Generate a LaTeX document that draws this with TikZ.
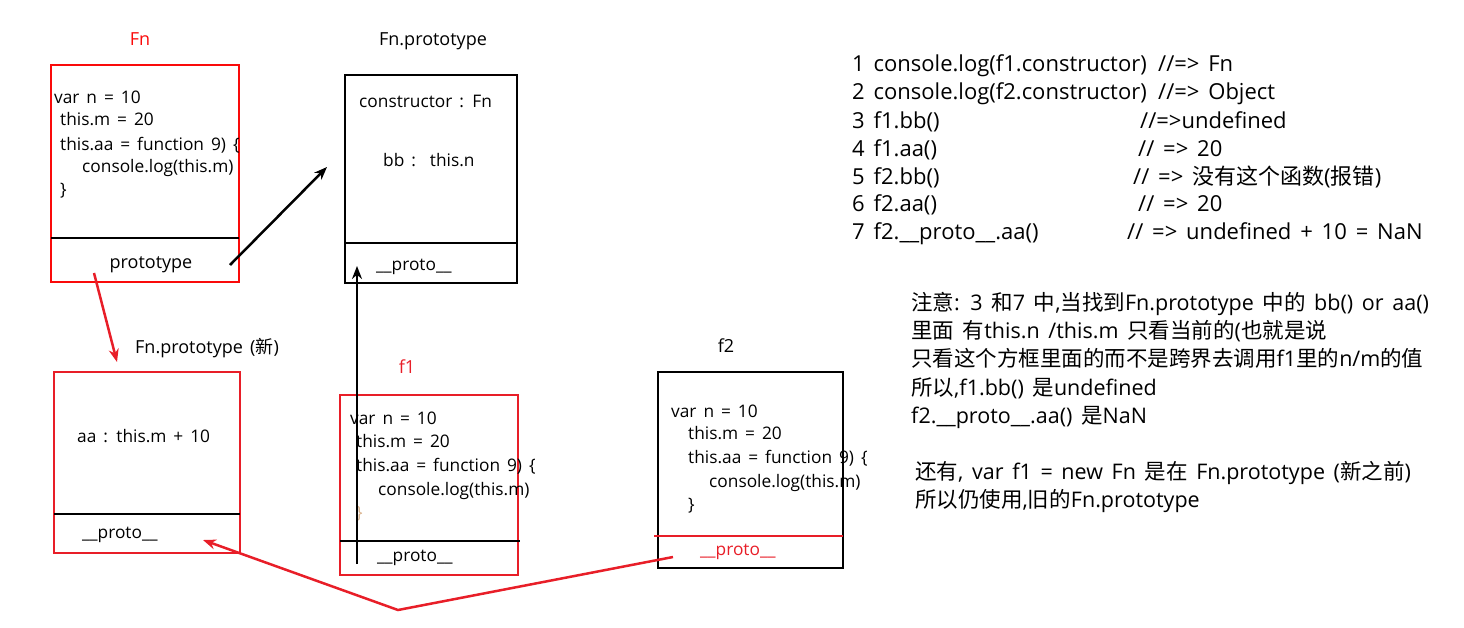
\documentclass[tikz,border=0pt]{standalone}
\usepackage{fontspec}
\setmainfont[WordSpace=1.55]{Open Sans}
\newfontfamily\cjkfont{Noto Sans CJK SC}
\newcommand\zh[1]{{\cjkfont #1}}
\usetikzlibrary{arrows.meta}
\definecolor{myred}{RGB}{232,30,40}
\definecolor{brightred}{RGB}{250,10,10}
\begin{document}
\begin{tikzpicture}[x=1pt,y=-1pt,
  boxtxt/.style={anchor=base west, inner sep=0pt, font=\fontsize{17.3}{20}\selectfont},
  lbl/.style={anchor=base, inner sep=0pt, font=\fontsize{18}{20}\selectfont},
  rtxt/.style={anchor=base west, inner sep=0pt, font=\fontsize{22}{24}\selectfont},
  ntxt/.style={anchor=base west, inner sep=0pt, font=\fontsize{21.5}{24}\selectfont},
  objbox/.style={draw, line width=2pt, inner sep=0pt, rectangle},
  divider/.style={line width=2pt},
  blackarrow/.style={line width=2.5pt, -{Stealth[length=13pt,width=10pt]}},
  redarrow/.style={line width=2.5pt, myred, -{Stealth[length=13pt,width=10pt]}},
]
\useasboundingbox (0,0) rectangle (1464,627);

% ---------- Fn box ----------
\node[objbox, draw=brightred, minimum width=188pt, minimum height=217pt] (fn) at (145,173.5) {};
\draw[divider] (51,238) -- (239,238);
\node[lbl, text=brightred] (fnlbl) at (140,45) {Fn};
\node[boxtxt] (fn1) at (54,103) {var n = 10};
\node[boxtxt] (fn2) at (60,125) {this.m = 20};
\node[boxtxt] (fn3) at (60,150) {this.aa = function 9) \{};
\node[boxtxt] (fn4) at (82,172) {console.log(this.m)};
\node[boxtxt] (fn5) at (60,195) {\}};
\node[lbl] (fnproto) at (151,268) {prototype};

% ---------- Fn.prototype box ----------
\node[objbox, minimum width=172pt, minimum height=208pt] (fp) at (431,179) {};
\draw[divider] (345,243) -- (517,243);
\node[lbl] (fplbl) at (433,45) {Fn.prototype};
\node[boxtxt] (fp1) at (359,107) {constructor : Fn};
\node[boxtxt] (fp2) at (383,166) {bb :\ \ this.n};
\node[boxtxt] (fp3) at (376,270) {\_\_proto\_\_};

% ---------- Fn.prototype (new) box ----------
\node[objbox, draw=myred, minimum width=186pt, minimum height=181pt] (np) at (147,462.5) {};
\draw[divider] (54,514) -- (240,514);
\node[anchor=base west, inner sep=0pt, font=\fontsize{18}{20}\selectfont] (nplbl) at (135,353) {Fn.prototype (\zh{新})};
\node[boxtxt] (np1) at (77,442) {aa : this.m + 10};
\node[boxtxt] (np2) at (82,538) {\_\_proto\_\_};

% ---------- f1 box ----------
\node[objbox, draw=myred, minimum width=178pt, minimum height=180pt] (f1) at (429,485) {};
\node[lbl, text=myred] (f1lbl) at (407,373) {f1};
\node[boxtxt] (f11) at (350,424) {var n = 10};
\node[boxtxt] (f12) at (356,447) {this.m = 20};
\node[boxtxt] (f13) at (356,471) {this.aa = function 9) \{};
\node[boxtxt] (f14) at (378,495) {console.log(this.m)};
\node[boxtxt, text=brown!60] (f15) at (356,518) {\}};
\node[boxtxt] (f16) at (377,561) {\_\_proto\_\_};
\draw[divider] (340,541) -- (520,541);

% ---------- f2 box ----------
\node[objbox, minimum width=185pt, minimum height=196pt] (f2) at (750.5,470) {};
\draw[divider, myred] (654,536) -- (843,536);
\node[lbl] (f2lbl) at (726,352) {f2};
\node[boxtxt] (f21) at (671,417) {var n = 10};
\node[boxtxt] (f22) at (688,439) {this.m = 20};
\node[boxtxt] (f23) at (688,463) {this.aa = function 9) \{};
\node[boxtxt] (f24) at (709,487) {console.log(this.m)};
\node[boxtxt] (f25) at (688,510) {\}};
\node[boxtxt, text=myred] (f26) at (700,555) {\_\_proto\_\_};

% ---------- connectors ----------
\coordinate (a1s) at (230,265);
\coordinate (a1e) at (327,167);
\draw[blackarrow] (a1s) -- (a1e);

\coordinate (a2s) at (357,564);
\coordinate (a2e) at (357,266);
\draw[blackarrow] (a2s) -- (a2e);

\coordinate (a3s) at (94,273);
\coordinate (a3e) at (117,362);
\draw[redarrow] (a3s) -- (a3e);

\coordinate (a4s) at (673,557);
\coordinate (a4m) at (398,610);
\coordinate (a4e) at (203,540);
\draw[redarrow, line join=miter] (a4s) -- (a4m) -- (a4e);

% ---------- right text ----------
\node[rtxt] (r1) at (852,71) {1 console.log(f1.constructor)};
\node[rtxt] (r1b) at (1158,71) {//=> Fn};
\node[rtxt] (r2) at (852,99.5) {2 console.log(f2.constructor)};
\node[rtxt] (r2b) at (1158,99.5) {//=> Object};
\node[rtxt] (r3) at (852,128) {3 f1.bb()};
\node[rtxt] (r3b) at (1140,128) {//=>undefined};
\node[rtxt] (r4) at (852,156) {4 f1.aa()};
\node[rtxt] (r4b) at (1138,156) {// => 20};
\node[rtxt] (r5) at (852,184) {5 f2.bb()};
\node[rtxt] (r5b) at (1133,184) {// => \zh{没有这个函数}(\zh{报错})};
\node[rtxt] (r6) at (852,211) {6 f2.aa()};
\node[rtxt] (r6b) at (1138,211) {// => 20};
\node[rtxt] (r7) at (852,239) {7 f2.\_\_proto\_\_.aa()};
\node[rtxt] (r7b) at (1127,239) {// => undefined + 10 = NaN};

% ---------- notes ----------
\node[ntxt] (n1) at (911,310) {\zh{注意}: 3 \zh{和}7 \zh{中},\zh{当找到}Fn.prototype \zh{中的} bb() or aa()};
\node[ntxt] (n2) at (911,338) {\zh{里面} \zh{有}this.n /this.m \zh{只看当前的}(\zh{也就是说}};
\node[ntxt] (n3) at (911,366) {\zh{只看这个方框里面的而不是跨界去调用}f1\zh{里的}n/m\zh{的值}};
\node[ntxt] (n4) at (911,395) {\zh{所以},f1.bb() \zh{是}undefined};
\node[ntxt] (n5) at (911,423) {f2.\_\_proto\_\_.aa() \zh{是}NaN};
\node[ntxt] (n6) at (915,479) {\zh{还有}, var f1 = new Fn \zh{是在} Fn.prototype (\zh{新之前})};
\node[ntxt] (n7) at (915,507) {\zh{所以仍使用},\zh{旧的}Fn.prototype};
\end{tikzpicture}
\end{document}
